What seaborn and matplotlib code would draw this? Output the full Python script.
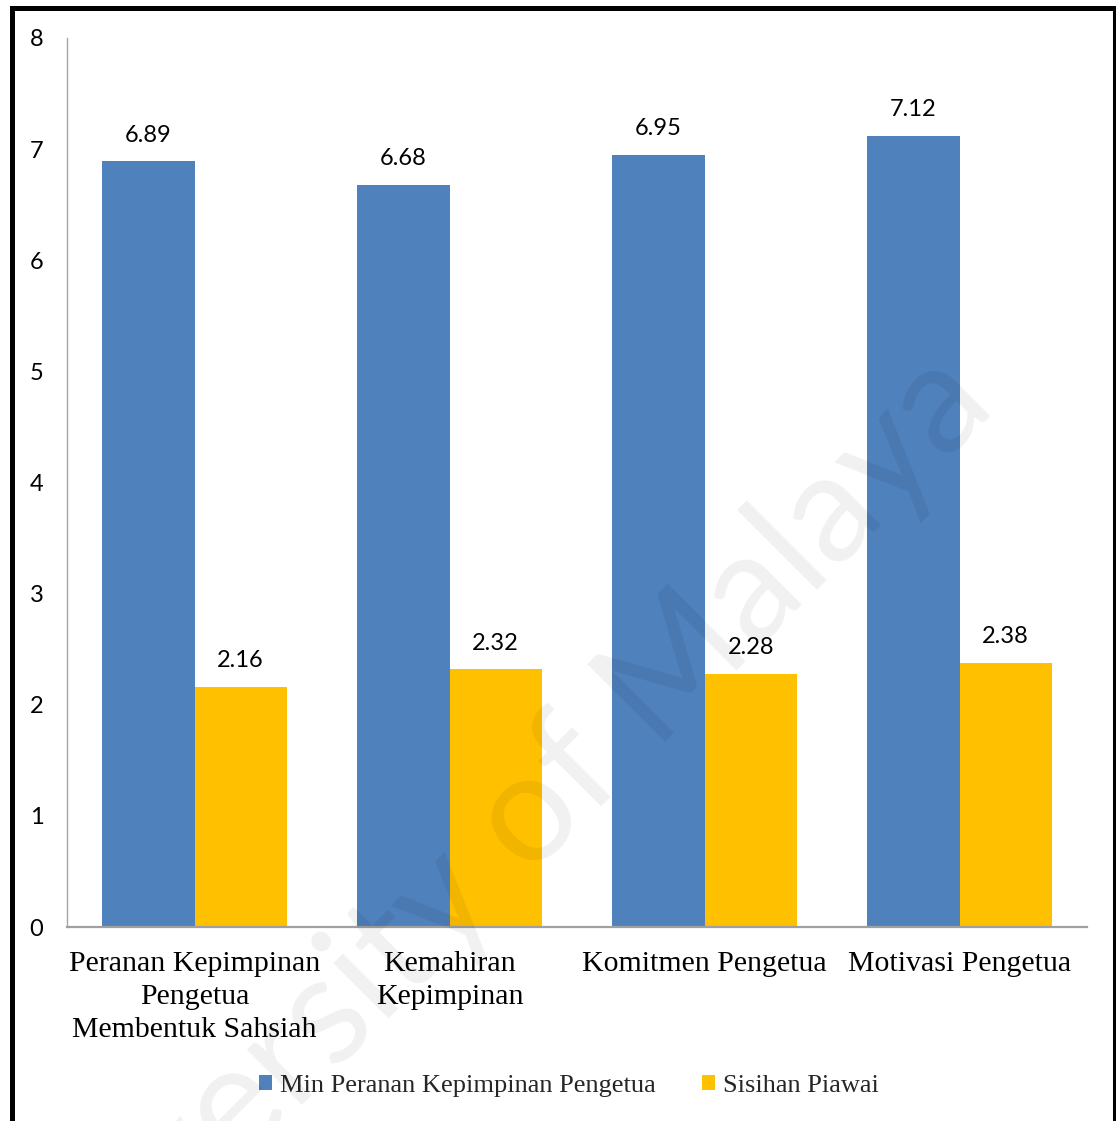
import matplotlib
matplotlib.use("Agg")
import matplotlib.pyplot as plt
from matplotlib.lines import Line2D
from matplotlib.patches import Patch
import seaborn as sns
import pandas as pd

# Data
categories = [
    "Peranan Kepimpinan\nPengetua\nMembentuk Sahsiah",
    "Kemahiran\nKepimpinan",
    "Komitmen Pengetua",
    "Motivasi Pengetua",
]
series_names = ["Min Peranan Kepimpinan Pengetua", "Sisihan Piawai"]
min_values = [6.89, 6.68, 6.95, 7.12]
sd_values = [2.16, 2.32, 2.28, 2.38]
y_ticks = [0, 1, 2, 3, 4, 5, 6, 7, 8]

colors = ["#4F81BD", "#FFC000"]

df = pd.DataFrame({
    "Kategori": categories * 2,
    "Siri": [series_names[0]] * 4 + [series_names[1]] * 4,
    "Nilai": min_values + sd_values,
})

sns.set_theme(style="white")
plt.rcParams["font.family"] = ["Lato", "DejaVu Sans"]

fig = plt.figure(figsize=(11.16, 11.21), dpi=100)
ax = fig.add_axes([67 / 1116, 1 - 927 / 1121, 1020 / 1116, 889 / 1121])

sns.barplot(
    data=df, x="Kategori", y="Nilai", hue="Siri",
    palette=colors, width=0.725, ax=ax, legend=False,
    saturation=1, linewidth=0, errorbar=None,
)

ax.set_ylim(0, 8)
ax.set_yticks(y_ticks)
ax.set_xlabel("")
ax.set_ylabel("")

# Value labels above each bar
for container in ax.containers:
    for bar in container:
        h = bar.get_height()
        ax.annotate(f"{h:.2f}", xy=(bar.get_x() + bar.get_width() / 2, h),
                    xytext=(0, 18.8), textcoords="offset points",
                    ha="center", va="center", fontsize=17, color="#000000",
                    family=["Lato", "DejaVu Sans"])

ax.tick_params(axis="y", length=0, pad=17, labelsize=17, labelcolor="#000000")
ax.tick_params(axis="x", length=0, pad=17)
for lbl in ax.get_yticklabels():
    lbl.set_family(["Lato", "DejaVu Sans"])
for lbl in ax.get_xticklabels():
    lbl.set_family(["Liberation Serif", "DejaVu Serif"])
    lbl.set_fontsize(21.5)
    lbl.set_linespacing(1.36)
    lbl.set_color("#000000")

for side in ["top", "right"]:
    ax.spines[side].set_visible(False)
ax.spines["left"].set_color("#a6a6a6")
ax.spines["left"].set_linewidth(1.0)
ax.spines["bottom"].set_color("#a0a0a0")
ax.spines["bottom"].set_linewidth(1.6)

# Legend
handles = [Patch(facecolor=c, edgecolor="none") for c in colors]
fig.legend(handles, series_names, loc="center", bbox_to_anchor=(569 / 1116, 1 - 1086 / 1121),
           ncol=2, frameon=False, handlelength=0.5, handleheight=0.5,
           handletextpad=0.3, columnspacing=1.75,
           prop={"family": ["Liberation Serif", "DejaVu Serif"], "size": 19})

# Watermark over the plot
fig.text(507 / 1116, 1 - 900 / 1121, "University of Malaya", rotation=45,
         rotation_mode="anchor", ha="center", va="baseline", fontsize=110,
         color="black", alpha=0.06, family=["Lato", "DejaVu Sans"], zorder=10)

# Outer frame (left, top, right)
W, H = 1116, 1121
fig.add_artist(Line2D([11.5 / W, 11.5 / W], [-0.02, 1 - 7.5 / H], color="black",
                      linewidth=3.6, transform=fig.transFigure, solid_capstyle="projecting"))
fig.add_artist(Line2D([11.5 / W, 1113.5 / W], [1 - 7.5 / H, 1 - 7.5 / H], color="black",
                      linewidth=3.6, transform=fig.transFigure, solid_capstyle="projecting"))
fig.add_artist(Line2D([1113.5 / W, 1113.5 / W], [-0.02, 1 - 7.5 / H], color="black",
                      linewidth=2.2, transform=fig.transFigure))

fig.savefig("out.png", dpi=100, facecolor="white")
